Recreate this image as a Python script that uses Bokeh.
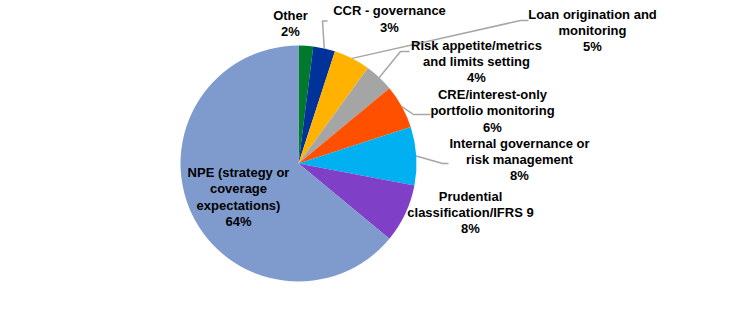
import numpy as np
from bokeh.plotting import figure
from bokeh.models import Range1d, ColumnDataSource
from bokeh.core.properties import value
from bokeh.embed import file_html
from bokeh.resources import INLINE

categories = ["Other", "CCR - governance", "Loan origination and\nmonitoring",
              "Risk appetite/metrics\nand limits setting", "CRE/interest-only\nportfolio monitoring",
              "Internal governance or\nrisk management", "Prudential\nclassification/IFRS 9",
              "NPE (strategy or\ncoverage\nexpectations)"]
shares = [2, 3, 5, 4, 6, 8, 8, 64]
colors = ["#00782D", "#003399", "#FFB300", "#A5A5A5", "#FF5000", "#00B0F0", "#7F3FC6", "#7F9BCE"]

W, H = 741, 324
cx, cy, R = 298, 163, 118

# label block centres (pixel coords from top-left)
label_pos = [(290, 23), (389, 18.5), (592, 30), (476, 61), (492, 110.5),
             (519, 159), (470, 212), (238, 196.5)]
# leader elbows: (elbow, end) in pixel coords, None for no leader
leaders = [None, ((322, 20.5), (327, 20.5)), ((520, 20), (528, 20)),
           ((400, 51), (409, 51)), ((413, 114), (430, 114)),
           ((442, 163), (448, 163)), None, None]

p = figure(width=W, height=H, x_range=Range1d(0, W), y_range=Range1d(0, H),
           output_backend="svg", toolbar_location=None, min_border=0)
p.axis.visible = False
p.grid.visible = False
p.outline_line_color = None
p.background_fill_color = "white"

vals = np.array(shares, dtype=float)
frac = vals / vals.sum()
cum = np.concatenate([[0], np.cumsum(frac)])
start = np.pi / 2 - cum[:-1] * 2 * np.pi
end = np.pi / 2 - cum[1:] * 2 * np.pi

src = ColumnDataSource(dict(start=start, end=end, color=colors))
p.wedge(x=cx, y=H - cy, radius=R, start_angle="start", end_angle="end",
        direction="clock", fill_color="color", line_color=None, source=src)

# leaders
for i, ld in enumerate(leaders):
    if ld is None:
        continue
    mid = (cum[i] + cum[i + 1]) / 2 * 2 * np.pi
    sx = cx + R * np.sin(mid)
    sy = cy - R * np.cos(mid)
    xs = [sx, ld[0][0], ld[1][0]]
    ys = [H - sy, H - ld[0][1], H - ld[1][1]]
    p.line(xs, ys, line_color="#A6A6A6", line_width=1.5)

texts = [f"{c}\n{s}%" for c, s in zip(categories, shares)]
tsrc = ColumnDataSource(dict(x=[lp[0] for lp in label_pos], y=[H - lp[1] for lp in label_pos], t=texts))
p.text(x="x", y="y", text="t", source=tsrc, text_font=value("Liberation Sans"),
       text_font_style="bold", text_font_size="13px", text_align="center",
       text_baseline="middle", text_color="#000000", text_line_height=1.07)

open("out.html", "w").write(file_html(p, INLINE))
